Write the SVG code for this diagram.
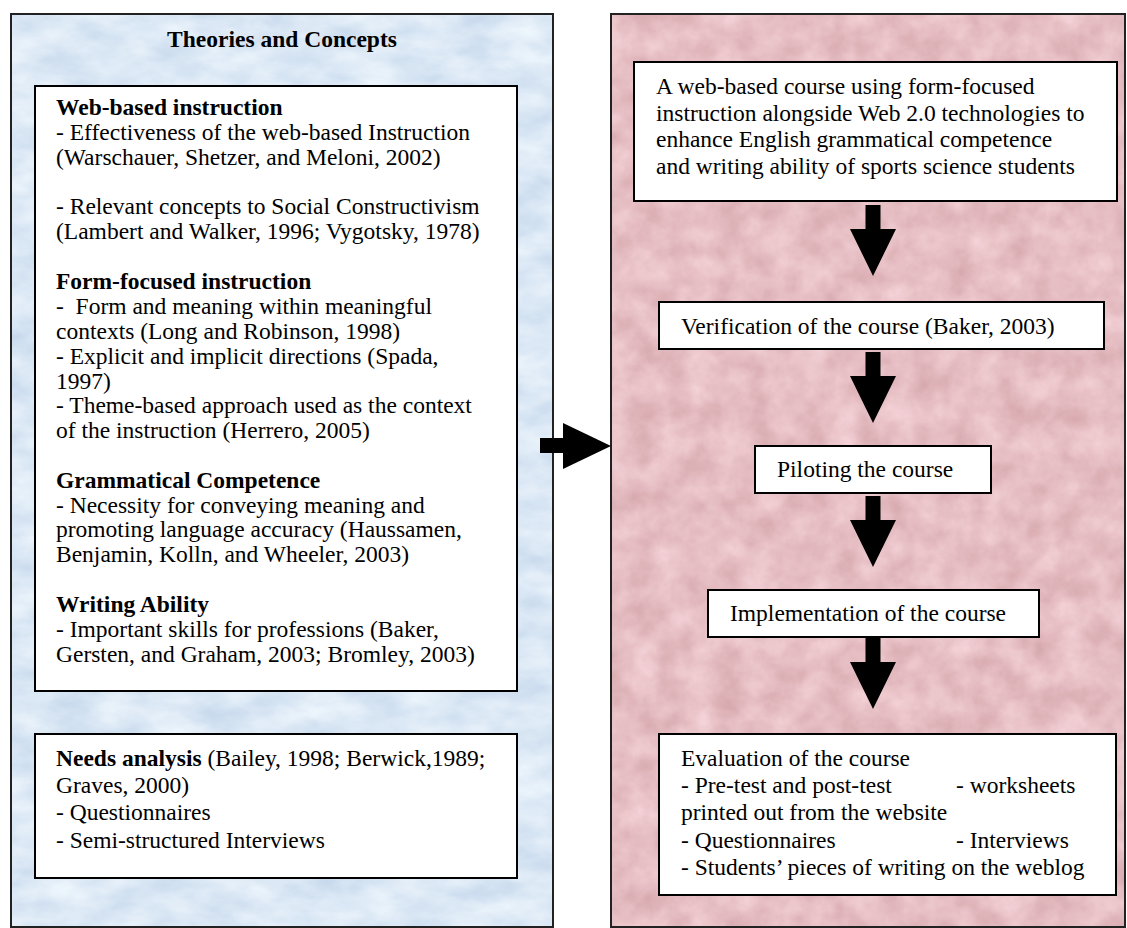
<svg xmlns="http://www.w3.org/2000/svg" width="1127" height="928" viewBox="0 0 1127 928">
<style>
  .t { font-family: "Liberation Serif", "Times New Roman", serif; font-size: 23.5px; fill: #000; }
  .b { font-weight: bold; }
  .box { fill: #fff; stroke: #000; stroke-width: 2; }
  .frame { fill: none; stroke: #222; stroke-width: 2; }
  .arrow { fill: #000; stroke: none; }
</style>
<defs>
  <filter id="texBlue" x="0" y="0" width="100%" height="100%" color-interpolation-filters="sRGB">
    <feTurbulence type="fractalNoise" baseFrequency="0.02 0.04" numOctaves="4" seed="7"/>
    <feColorMatrix type="matrix" values="0.2 0 0 0 0.76  0.15 0 0 0 0.835  0.08 0 0 0 0.92  0 0 0 0 1"/>
  </filter>
  <filter id="texPink" x="0" y="0" width="100%" height="100%" color-interpolation-filters="sRGB">
    <feTurbulence type="fractalNoise" baseFrequency="0.035" numOctaves="4" seed="11"/>
    <feColorMatrix type="matrix" values="0.14 0 0 0 0.83  0.2 0 0 0 0.645  0.2 0 0 0 0.665  0 0 0 0 1"/>
  </filter>
</defs>

<g id="panel-theories">
  <rect x="11" y="14" width="542" height="913" fill="#d9e6f4" filter="url(#texBlue)"/>
  <rect class="frame" x="11" y="14" width="542" height="913"/>
  <text class="t b" x="282" y="47" text-anchor="middle">Theories and Concepts</text>
</g>

<g id="panel-course">
  <rect x="611" y="14" width="514" height="913" fill="#e7bcc1" filter="url(#texPink)"/>
  <rect class="frame" x="611" y="14" width="514" height="913"/>
</g>

<g id="node-theories">
  <rect class="box" x="35" y="86" width="482" height="605"/>
  <text class="t b" x="56" y="115">Web-based instruction</text>
  <text class="t" x="56" y="140">- Effectiveness of the web-based Instruction</text>
  <text class="t" x="56" y="165">(Warschauer, Shetzer, and Meloni, 2002)</text>
  <text class="t" x="56" y="214">- Relevant concepts to Social Constructivism</text>
  <text class="t" x="56" y="239">(Lambert and Walker, 1996; Vygotsky, 1978)</text>
  <text class="t b" x="56" y="289">Form-focused instruction</text>
  <text class="t" x="56" y="314" xml:space="preserve">-  Form and meaning within meaningful</text>
  <text class="t" x="56" y="339">contexts (Long and Robinson, 1998)</text>
  <text class="t" x="56" y="364">- Explicit and implicit directions (Spada,</text>
  <text class="t" x="56" y="389">1997)</text>
  <text class="t" x="56" y="413">- Theme-based approach used as the context</text>
  <text class="t" x="56" y="438">of the instruction (Herrero, 2005)</text>
  <text class="t b" x="56" y="488">Grammatical Competence</text>
  <text class="t" x="56" y="513">- Necessity for conveying meaning and</text>
  <text class="t" x="56" y="537">promoting language accuracy (Haussamen,</text>
  <text class="t" x="56" y="562">Benjamin, Kolln, and Wheeler, 2003)</text>
  <text class="t b" x="56" y="612">Writing Ability</text>
  <text class="t" x="56" y="637">- Important skills for professions (Baker,</text>
  <text class="t" x="56" y="662">Gersten, and Graham, 2003; Bromley, 2003)</text>
</g>

<g id="node-needs">
  <rect class="box" x="35" y="734" width="482" height="144"/>
  <text class="t" x="56" y="766"><tspan font-weight="bold">Needs analysis</tspan> (Bailey, 1998; Berwick,1989;</text>
  <text class="t" x="56" y="793">Graves, 2000)</text>
  <text class="t" x="56" y="820">- Questionnaires</text>
  <text class="t" x="56" y="848">- Semi-structured Interviews</text>
</g>

<g id="node-course">
  <rect class="box" x="634" y="62" width="483" height="139"/>
  <text class="t" x="656" y="94">A web-based course using form-focused</text>
  <text class="t" x="656" y="121">instruction alongside Web 2.0 technologies to</text>
  <text class="t" x="656" y="147">enhance English grammatical competence</text>
  <text class="t" x="656" y="174">and writing ability of sports science students</text>
</g>

<g id="node-verification">
  <rect class="box" x="659" y="302" width="445" height="47"/>
  <text class="t" x="681" y="334">Verification of the course (Baker, 2003)</text>
</g>

<g id="node-piloting">
  <rect class="box" x="755" y="446" width="236" height="47"/>
  <text class="t" x="777" y="477">Piloting the course</text>
</g>

<g id="node-implementation">
  <rect class="box" x="708" y="590" width="331" height="47"/>
  <text class="t" x="730" y="621">Implementation of the course</text>
</g>

<g id="node-evaluation">
  <rect class="box" x="659" y="734" width="457" height="161"/>
  <text class="t" x="681" y="766">Evaluation of the course</text>
  <text class="t" x="681" y="793">- Pre-test and post-test</text>
  <text class="t" x="956" y="793">- worksheets</text>
  <text class="t" x="681" y="820">printed out from the website</text>
  <text class="t" x="681" y="848">- Questionnaires</text>
  <text class="t" x="956" y="848">- Interviews</text>
  <text class="t" x="681" y="875">- Students’ pieces of writing on the weblog</text>
</g>

<g id="connectors">
  <polygon class="arrow" points="540,438 563,438 563,423 611,446 563,469 563,453 540,453"/>
  <polygon class="arrow" points="865.5,205 880.5,205 880.5,229 896,229 873,276 850,229 865.5,229"/>
  <polygon class="arrow" points="865.5,352 880.5,352 880.5,376 896,376 873,423 850,376 865.5,376"/>
  <polygon class="arrow" points="865.5,496 880.5,496 880.5,520 896,520 873,567 850,520 865.5,520"/>
  <polygon class="arrow" points="865.5,638 880.5,638 880.5,662 896,662 873,709 850,662 865.5,662"/>
</g>
</svg>
